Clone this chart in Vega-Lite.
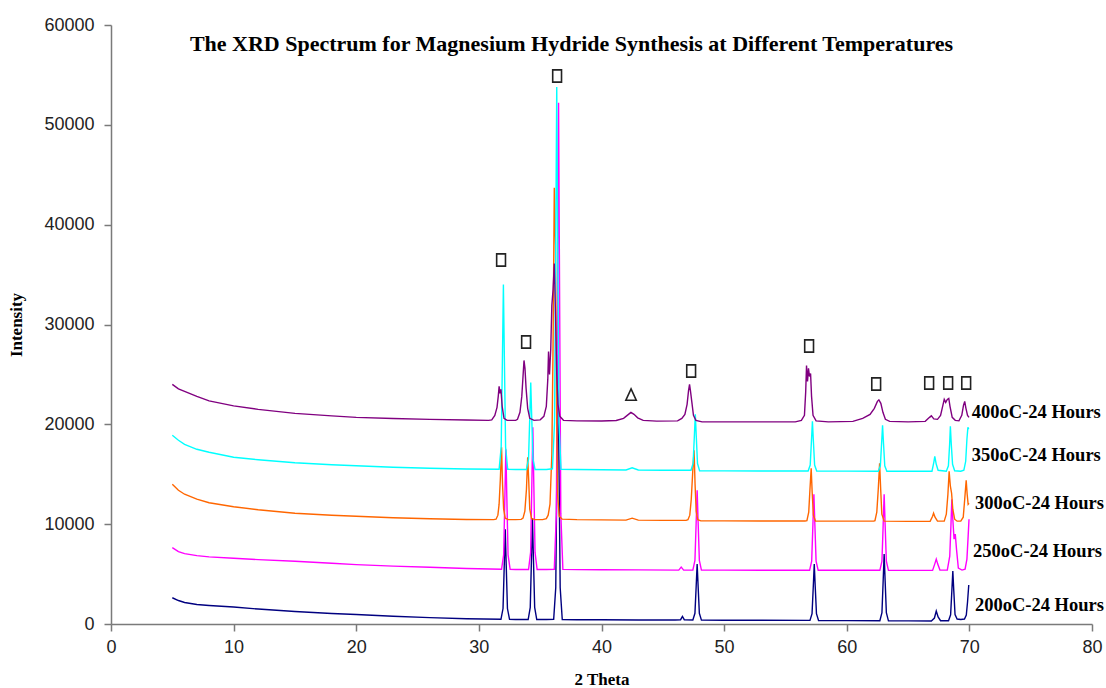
{
  "$schema": "https://vega.github.io/schema/vega-lite/v6.json",
  "width": 981,
  "height": 599,
  "autosize": {"type": "none"},
  "padding": {"left": 111, "top": 25, "right": 14, "bottom": 64},
  "background": "white",
  "title": {
    "text": "The XRD Spectrum for Magnesium Hydride Synthesis at Different Temperatures",
    "font": "Liberation Serif",
    "fontSize": 22,
    "fontWeight": "bold",
    "color": "black",
    "anchor": "middle",
    "frame": "group",
    "offset": 0,
    "dx": -30,
    "dy": 40
  },
  "config": {
    "view": {"stroke": null},
    "axis": {
      "grid": false,
      "domainColor": "#7a7a7a",
      "domainWidth": 1.5,
      "tickColor": "#7a7a7a",
      "tickWidth": 1.5,
      "tickSize": 7,
      "labelFont": "Liberation Sans",
      "labelFontSize": 18,
      "labelColor": "#222222",
      "labelFlush": false,
      "titleFont": "Liberation Serif",
      "titleFontSize": 17,
      "titleFontWeight": "bold",
      "titleColor": "black"
    }
  },
  "datasets": {
    "spectra": [
      {"s":"200oC-24 Hours","x":5,"y":2630},{"s":"200oC-24 Hours","x":5.5,"y":2350},{"s":"200oC-24 Hours","x":6,"y":2150},{"s":"200oC-24 Hours","x":7,"y":1950},{"s":"200oC-24 Hours","x":8,"y":1850},{"s":"200oC-24 Hours","x":10,"y":1700},{"s":"200oC-24 Hours","x":12,"y":1500},{"s":"200oC-24 Hours","x":15,"y":1250},{"s":"200oC-24 Hours","x":18,"y":1050},{"s":"200oC-24 Hours","x":20,"y":950},{"s":"200oC-24 Hours","x":23,"y":780},{"s":"200oC-24 Hours","x":26,"y":640},{"s":"200oC-24 Hours","x":29,"y":520},{"s":"200oC-24 Hours","x":31.8,"y":470},
      {"s":"200oC-24 Hours","x":31.97,"y":1550},{"s":"200oC-24 Hours","x":32.07,"y":5890},{"s":"200oC-24 Hours","x":32.15,"y":9500},{"s":"200oC-24 Hours","x":32.23,"y":5890},{"s":"200oC-24 Hours","x":32.33,"y":1550},{"s":"200oC-24 Hours","x":32.5,"y":460},{"s":"200oC-24 Hours","x":33,"y":450},
      {"s":"200oC-24 Hours","x":34.02,"y":450},{"s":"200oC-24 Hours","x":34.19,"y":1670},{"s":"200oC-24 Hours","x":34.29,"y":6540},{"s":"200oC-24 Hours","x":34.37,"y":10600},{"s":"200oC-24 Hours","x":34.45,"y":6540},{"s":"200oC-24 Hours","x":34.55,"y":1670},{"s":"200oC-24 Hours","x":34.72,"y":450},{"s":"200oC-24 Hours","x":35.5,"y":450},
      {"s":"200oC-24 Hours","x":36.1,"y":460},{"s":"200oC-24 Hours","x":36.27,"y":3650},{"s":"200oC-24 Hours","x":36.37,"y":16390},{"s":"200oC-24 Hours","x":36.45,"y":27000},{"s":"200oC-24 Hours","x":36.53,"y":16390},{"s":"200oC-24 Hours","x":36.63,"y":3650},{"s":"200oC-24 Hours","x":36.8,"y":450},
      {"s":"200oC-24 Hours","x":38,"y":430},{"s":"200oC-24 Hours","x":40,"y":420},{"s":"200oC-24 Hours","x":43,"y":400},{"s":"200oC-24 Hours","x":46,"y":400},{"s":"200oC-24 Hours","x":46.45,"y":430},{"s":"200oC-24 Hours","x":46.6,"y":750},{"s":"200oC-24 Hours","x":46.75,"y":430},
      {"s":"200oC-24 Hours","x":47.45,"y":400},{"s":"200oC-24 Hours","x":47.62,"y":1070},{"s":"200oC-24 Hours","x":47.72,"y":3760},{"s":"200oC-24 Hours","x":47.8,"y":6000},{"s":"200oC-24 Hours","x":47.88,"y":3760},{"s":"200oC-24 Hours","x":47.98,"y":1070},{"s":"200oC-24 Hours","x":48.15,"y":390},
      {"s":"200oC-24 Hours","x":50,"y":380},{"s":"200oC-24 Hours","x":53,"y":370},{"s":"200oC-24 Hours","x":57,"y":360},{"s":"200oC-24 Hours","x":57.17,"y":1040},{"s":"200oC-24 Hours","x":57.27,"y":3740},{"s":"200oC-24 Hours","x":57.35,"y":6000},{"s":"200oC-24 Hours","x":57.43,"y":3740},{"s":"200oC-24 Hours","x":57.53,"y":1040},{"s":"200oC-24 Hours","x":57.7,"y":350},
      {"s":"200oC-24 Hours","x":60,"y":340},{"s":"200oC-24 Hours","x":62.7,"y":330},{"s":"200oC-24 Hours","x":62.87,"y":1130},{"s":"200oC-24 Hours","x":62.97,"y":4330},{"s":"200oC-24 Hours","x":63.05,"y":7000},{"s":"200oC-24 Hours","x":63.13,"y":4330},{"s":"200oC-24 Hours","x":63.23,"y":1130},{"s":"200oC-24 Hours","x":63.4,"y":320},
      {"s":"200oC-24 Hours","x":65,"y":310},{"s":"200oC-24 Hours","x":66.9,"y":300},{"s":"200oC-24 Hours","x":67.15,"y":600},{"s":"200oC-24 Hours","x":67.3,"y":1300},{"s":"200oC-24 Hours","x":67.45,"y":700},{"s":"200oC-24 Hours","x":67.65,"y":330},
      {"s":"200oC-24 Hours","x":68.3,"y":330},{"s":"200oC-24 Hours","x":68.47,"y":920},{"s":"200oC-24 Hours","x":68.57,"y":3310},{"s":"200oC-24 Hours","x":68.65,"y":5300},{"s":"200oC-24 Hours","x":68.73,"y":3310},{"s":"200oC-24 Hours","x":68.83,"y":950},{"s":"200oC-24 Hours","x":69,"y":500},{"s":"200oC-24 Hours","x":69.3,"y":450},{"s":"200oC-24 Hours","x":69.6,"y":500},{"s":"200oC-24 Hours","x":69.75,"y":900},{"s":"200oC-24 Hours","x":69.85,"y":2200},{"s":"200oC-24 Hours","x":69.95,"y":3900},

      {"s":"250oC-24 Hours","x":5,"y":7650},{"s":"250oC-24 Hours","x":5.5,"y":7250},{"s":"250oC-24 Hours","x":6,"y":7050},{"s":"250oC-24 Hours","x":7,"y":6850},{"s":"250oC-24 Hours","x":8,"y":6720},{"s":"250oC-24 Hours","x":10,"y":6580},{"s":"250oC-24 Hours","x":12,"y":6450},{"s":"250oC-24 Hours","x":15,"y":6280},{"s":"250oC-24 Hours","x":18,"y":6080},{"s":"250oC-24 Hours","x":20,"y":5950},{"s":"250oC-24 Hours","x":23,"y":5800},{"s":"250oC-24 Hours","x":26,"y":5680},{"s":"250oC-24 Hours","x":29,"y":5560},{"s":"250oC-24 Hours","x":31.85,"y":5480},
      {"s":"250oC-24 Hours","x":32.02,"y":6920},{"s":"250oC-24 Hours","x":32.12,"y":12690},{"s":"250oC-24 Hours","x":32.2,"y":17500},{"s":"250oC-24 Hours","x":32.28,"y":12690},{"s":"250oC-24 Hours","x":32.38,"y":6920},{"s":"250oC-24 Hours","x":32.55,"y":5470},{"s":"250oC-24 Hours","x":33,"y":5460},
      {"s":"250oC-24 Hours","x":34.05,"y":5460},{"s":"250oC-24 Hours","x":34.22,"y":7170},{"s":"250oC-24 Hours","x":34.32,"y":14000},{"s":"250oC-24 Hours","x":34.4,"y":19700},{"s":"250oC-24 Hours","x":34.48,"y":14000},{"s":"250oC-24 Hours","x":34.58,"y":7170},{"s":"250oC-24 Hours","x":34.75,"y":5460},{"s":"250oC-24 Hours","x":35.5,"y":5460},
      {"s":"250oC-24 Hours","x":36.15,"y":5470},{"s":"250oC-24 Hours","x":36.32,"y":11080},{"s":"250oC-24 Hours","x":36.42,"y":33510},{"s":"250oC-24 Hours","x":36.5,"y":52200},{"s":"250oC-24 Hours","x":36.58,"y":33510},{"s":"250oC-24 Hours","x":36.68,"y":11080},{"s":"250oC-24 Hours","x":36.85,"y":5470},
      {"s":"250oC-24 Hours","x":38,"y":5450},{"s":"250oC-24 Hours","x":40,"y":5440},{"s":"250oC-24 Hours","x":43,"y":5420},{"s":"250oC-24 Hours","x":46.3,"y":5400},{"s":"250oC-24 Hours","x":46.5,"y":5700},{"s":"250oC-24 Hours","x":46.7,"y":5400},
      {"s":"250oC-24 Hours","x":47.45,"y":5400},{"s":"250oC-24 Hours","x":47.62,"y":6360},{"s":"250oC-24 Hours","x":47.72,"y":10200},{"s":"250oC-24 Hours","x":47.8,"y":13400},{"s":"250oC-24 Hours","x":47.88,"y":10200},{"s":"250oC-24 Hours","x":47.98,"y":6360},{"s":"250oC-24 Hours","x":48.15,"y":5400},
      {"s":"250oC-24 Hours","x":50,"y":5400},{"s":"250oC-24 Hours","x":53,"y":5390},{"s":"250oC-24 Hours","x":56.97,"y":5380},{"s":"250oC-24 Hours","x":57.14,"y":6290},{"s":"250oC-24 Hours","x":57.24,"y":9950},{"s":"250oC-24 Hours","x":57.32,"y":13000},{"s":"250oC-24 Hours","x":57.4,"y":9950},{"s":"250oC-24 Hours","x":57.5,"y":6290},{"s":"250oC-24 Hours","x":57.67,"y":5380},
      {"s":"250oC-24 Hours","x":60,"y":5380},{"s":"250oC-24 Hours","x":62.7,"y":5380},{"s":"250oC-24 Hours","x":62.87,"y":6290},{"s":"250oC-24 Hours","x":62.97,"y":9950},{"s":"250oC-24 Hours","x":63.05,"y":13000},{"s":"250oC-24 Hours","x":63.13,"y":9950},{"s":"250oC-24 Hours","x":63.23,"y":6290},{"s":"250oC-24 Hours","x":63.4,"y":5380},
      {"s":"250oC-24 Hours","x":65,"y":5370},{"s":"250oC-24 Hours","x":67,"y":5370},{"s":"250oC-24 Hours","x":67.2,"y":6100},{"s":"250oC-24 Hours","x":67.3,"y":6500},{"s":"250oC-24 Hours","x":67.42,"y":6000},{"s":"250oC-24 Hours","x":67.6,"y":5400},
      {"s":"250oC-24 Hours","x":68.2,"y":5400},{"s":"250oC-24 Hours","x":68.4,"y":6800},{"s":"250oC-24 Hours","x":68.5,"y":10000},{"s":"250oC-24 Hours","x":68.57,"y":12500},{"s":"250oC-24 Hours","x":68.65,"y":10500},{"s":"250oC-24 Hours","x":68.75,"y":8500},{"s":"250oC-24 Hours","x":68.85,"y":9000},{"s":"250oC-24 Hours","x":68.95,"y":7500},{"s":"250oC-24 Hours","x":69.1,"y":5600},{"s":"250oC-24 Hours","x":69.4,"y":5400},{"s":"250oC-24 Hours","x":69.65,"y":5500},{"s":"250oC-24 Hours","x":69.8,"y":6500},{"s":"250oC-24 Hours","x":69.9,"y":8800},{"s":"250oC-24 Hours","x":69.97,"y":10500},

      {"s":"300oC-24 Hours","x":5,"y":14000},{"s":"300oC-24 Hours","x":5.5,"y":13400},{"s":"300oC-24 Hours","x":6,"y":13000},{"s":"300oC-24 Hours","x":7,"y":12500},{"s":"300oC-24 Hours","x":8,"y":12150},{"s":"300oC-24 Hours","x":10,"y":11750},{"s":"300oC-24 Hours","x":12,"y":11450},{"s":"300oC-24 Hours","x":15,"y":11100},{"s":"300oC-24 Hours","x":18,"y":10900},{"s":"300oC-24 Hours","x":20,"y":10800},{"s":"300oC-24 Hours","x":23,"y":10650},{"s":"300oC-24 Hours","x":26,"y":10550},{"s":"300oC-24 Hours","x":29,"y":10470},{"s":"300oC-24 Hours","x":31.2,"y":10450},
      {"s":"300oC-24 Hours","x":31.4,"y":10500},{"s":"300oC-24 Hours","x":31.55,"y":10900},{"s":"300oC-24 Hours","x":31.65,"y":12000},{"s":"300oC-24 Hours","x":31.75,"y":14500},{"s":"300oC-24 Hours","x":31.85,"y":17700},{"s":"300oC-24 Hours","x":31.93,"y":14000},{"s":"300oC-24 Hours","x":32.02,"y":11500},{"s":"300oC-24 Hours","x":32.15,"y":10600},{"s":"300oC-24 Hours","x":32.4,"y":10450},{"s":"300oC-24 Hours","x":33,"y":10450},{"s":"300oC-24 Hours","x":33.45,"y":10480},
      {"s":"300oC-24 Hours","x":33.6,"y":10600},{"s":"300oC-24 Hours","x":33.75,"y":11300},{"s":"300oC-24 Hours","x":33.88,"y":13500},{"s":"300oC-24 Hours","x":33.98,"y":16700},{"s":"300oC-24 Hours","x":34.06,"y":14500},{"s":"300oC-24 Hours","x":34.15,"y":11500},{"s":"300oC-24 Hours","x":34.3,"y":10550},{"s":"300oC-24 Hours","x":34.6,"y":10450},{"s":"300oC-24 Hours","x":35.2,"y":10450},{"s":"300oC-24 Hours","x":35.5,"y":10550},
      {"s":"300oC-24 Hours","x":35.65,"y":10900},{"s":"300oC-24 Hours","x":35.8,"y":12000},{"s":"300oC-24 Hours","x":35.95,"y":17000},{"s":"300oC-24 Hours","x":36.05,"y":28000},{"s":"300oC-24 Hours","x":36.15,"y":43700},{"s":"300oC-24 Hours","x":36.25,"y":38000},{"s":"300oC-24 Hours","x":36.33,"y":22000},{"s":"300oC-24 Hours","x":36.42,"y":13000},{"s":"300oC-24 Hours","x":36.55,"y":10800},{"s":"300oC-24 Hours","x":36.8,"y":10500},
      {"s":"300oC-24 Hours","x":38,"y":10450},{"s":"300oC-24 Hours","x":40,"y":10430},{"s":"300oC-24 Hours","x":42,"y":10400},{"s":"300oC-24 Hours","x":42.5,"y":10600},{"s":"300oC-24 Hours","x":43,"y":10400},{"s":"300oC-24 Hours","x":45,"y":10380},{"s":"300oC-24 Hours","x":46.9,"y":10380},
      {"s":"300oC-24 Hours","x":47.05,"y":10450},{"s":"300oC-24 Hours","x":47.2,"y":10900},{"s":"300oC-24 Hours","x":47.32,"y":12500},{"s":"300oC-24 Hours","x":47.45,"y":15500},{"s":"300oC-24 Hours","x":47.55,"y":17400},{"s":"300oC-24 Hours","x":47.63,"y":14000},{"s":"300oC-24 Hours","x":47.72,"y":11300},{"s":"300oC-24 Hours","x":47.85,"y":10450},{"s":"300oC-24 Hours","x":48.1,"y":10330},
      {"s":"300oC-24 Hours","x":50,"y":10330},{"s":"300oC-24 Hours","x":53,"y":10320},{"s":"300oC-24 Hours","x":56.6,"y":10320},{"s":"300oC-24 Hours","x":56.75,"y":10350},{"s":"300oC-24 Hours","x":56.9,"y":11200},{"s":"300oC-24 Hours","x":57,"y":13500},{"s":"300oC-24 Hours","x":57.1,"y":15600},{"s":"300oC-24 Hours","x":57.18,"y":13200},{"s":"300oC-24 Hours","x":57.28,"y":10900},{"s":"300oC-24 Hours","x":57.45,"y":10320},
      {"s":"300oC-24 Hours","x":60,"y":10300},{"s":"300oC-24 Hours","x":62.2,"y":10300},{"s":"300oC-24 Hours","x":62.3,"y":10350},{"s":"300oC-24 Hours","x":62.45,"y":11200},{"s":"300oC-24 Hours","x":62.57,"y":13500},{"s":"300oC-24 Hours","x":62.68,"y":16100},{"s":"300oC-24 Hours","x":62.76,"y":13700},{"s":"300oC-24 Hours","x":62.86,"y":11000},{"s":"300oC-24 Hours","x":63.05,"y":10300},
      {"s":"300oC-24 Hours","x":65,"y":10280},{"s":"300oC-24 Hours","x":66.8,"y":10280},{"s":"300oC-24 Hours","x":67,"y":10800},{"s":"300oC-24 Hours","x":67.08,"y":11100},{"s":"300oC-24 Hours","x":67.2,"y":10700},{"s":"300oC-24 Hours","x":67.4,"y":10300},
      {"s":"300oC-24 Hours","x":67.95,"y":10300},{"s":"300oC-24 Hours","x":68.12,"y":11000},{"s":"300oC-24 Hours","x":68.25,"y":13000},{"s":"300oC-24 Hours","x":68.35,"y":15300},{"s":"300oC-24 Hours","x":68.45,"y":13800},{"s":"300oC-24 Hours","x":68.55,"y":13100},{"s":"300oC-24 Hours","x":68.65,"y":11500},{"s":"300oC-24 Hours","x":68.8,"y":10500},{"s":"300oC-24 Hours","x":69,"y":10300},{"s":"300oC-24 Hours","x":69.3,"y":10300},{"s":"300oC-24 Hours","x":69.5,"y":10700},{"s":"300oC-24 Hours","x":69.62,"y":12500},{"s":"300oC-24 Hours","x":69.74,"y":14400},{"s":"300oC-24 Hours","x":69.82,"y":13000},{"s":"300oC-24 Hours","x":69.9,"y":12000},{"s":"300oC-24 Hours","x":69.97,"y":12100},

      {"s":"350oC-24 Hours","x":5,"y":18900},{"s":"350oC-24 Hours","x":5.5,"y":18400},{"s":"350oC-24 Hours","x":6,"y":18000},{"s":"350oC-24 Hours","x":7,"y":17500},{"s":"350oC-24 Hours","x":8,"y":17200},{"s":"350oC-24 Hours","x":10,"y":16700},{"s":"350oC-24 Hours","x":12,"y":16450},{"s":"350oC-24 Hours","x":15,"y":16150},{"s":"350oC-24 Hours","x":18,"y":15950},{"s":"350oC-24 Hours","x":20,"y":15850},{"s":"350oC-24 Hours","x":23,"y":15700},{"s":"350oC-24 Hours","x":26,"y":15600},{"s":"350oC-24 Hours","x":29,"y":15530},{"s":"350oC-24 Hours","x":31.65,"y":15500},
      {"s":"350oC-24 Hours","x":31.82,"y":17720},{"s":"350oC-24 Hours","x":31.92,"y":26600},{"s":"350oC-24 Hours","x":32,"y":34000},{"s":"350oC-24 Hours","x":32.08,"y":26600},{"s":"350oC-24 Hours","x":32.18,"y":17720},{"s":"350oC-24 Hours","x":32.35,"y":15500},{"s":"350oC-24 Hours","x":33,"y":15480},
      {"s":"350oC-24 Hours","x":33.88,"y":15480},{"s":"350oC-24 Hours","x":34.05,"y":16530},{"s":"350oC-24 Hours","x":34.15,"y":20710},{"s":"350oC-24 Hours","x":34.23,"y":24200},{"s":"350oC-24 Hours","x":34.31,"y":20710},{"s":"350oC-24 Hours","x":34.41,"y":16530},{"s":"350oC-24 Hours","x":34.58,"y":15480},{"s":"350oC-24 Hours","x":35.5,"y":15480},
      {"s":"350oC-24 Hours","x":36,"y":15550},{"s":"350oC-24 Hours","x":36.17,"y":20150},{"s":"350oC-24 Hours","x":36.27,"y":38500},{"s":"350oC-24 Hours","x":36.35,"y":53800},{"s":"350oC-24 Hours","x":36.43,"y":38500},{"s":"350oC-24 Hours","x":36.53,"y":20150},{"s":"350oC-24 Hours","x":36.7,"y":15500},
      {"s":"350oC-24 Hours","x":38,"y":15480},{"s":"350oC-24 Hours","x":40,"y":15450},{"s":"350oC-24 Hours","x":42,"y":15430},{"s":"350oC-24 Hours","x":42.5,"y":15650},{"s":"350oC-24 Hours","x":43,"y":15430},{"s":"350oC-24 Hours","x":45,"y":15400},{"s":"350oC-24 Hours","x":47.3,"y":15400},
      {"s":"350oC-24 Hours","x":47.47,"y":16070},{"s":"350oC-24 Hours","x":47.57,"y":18760},{"s":"350oC-24 Hours","x":47.65,"y":21000},{"s":"350oC-24 Hours","x":47.73,"y":18760},{"s":"350oC-24 Hours","x":47.83,"y":16070},{"s":"350oC-24 Hours","x":48,"y":15350},
      {"s":"350oC-24 Hours","x":50,"y":15340},{"s":"350oC-24 Hours","x":53,"y":15330},{"s":"350oC-24 Hours","x":56.85,"y":15320},{"s":"350oC-24 Hours","x":57.02,"y":15920},{"s":"350oC-24 Hours","x":57.12,"y":18310},{"s":"350oC-24 Hours","x":57.2,"y":20300},{"s":"350oC-24 Hours","x":57.28,"y":18310},{"s":"350oC-24 Hours","x":57.38,"y":15920},{"s":"350oC-24 Hours","x":57.55,"y":15320},
      {"s":"350oC-24 Hours","x":60,"y":15310},{"s":"350oC-24 Hours","x":62.57,"y":15300},{"s":"350oC-24 Hours","x":62.74,"y":15850},{"s":"350oC-24 Hours","x":62.84,"y":18060},{"s":"350oC-24 Hours","x":62.92,"y":19900},{"s":"350oC-24 Hours","x":63,"y":18060},{"s":"350oC-24 Hours","x":63.1,"y":15850},{"s":"350oC-24 Hours","x":63.27,"y":15300},
      {"s":"350oC-24 Hours","x":65,"y":15300},{"s":"350oC-24 Hours","x":66.95,"y":15300},{"s":"350oC-24 Hours","x":67.1,"y":16200},{"s":"350oC-24 Hours","x":67.18,"y":16800},{"s":"350oC-24 Hours","x":67.3,"y":16000},{"s":"350oC-24 Hours","x":67.45,"y":15400},{"s":"350oC-24 Hours","x":68.12,"y":15300},
      {"s":"350oC-24 Hours","x":68.29,"y":15840},{"s":"350oC-24 Hours","x":68.39,"y":18000},{"s":"350oC-24 Hours","x":68.45,"y":19800},{"s":"350oC-24 Hours","x":68.53,"y":17900},{"s":"350oC-24 Hours","x":68.63,"y":16000},{"s":"350oC-24 Hours","x":68.8,"y":15350},{"s":"350oC-24 Hours","x":69.3,"y":15300},{"s":"350oC-24 Hours","x":69.55,"y":15400},{"s":"350oC-24 Hours","x":69.7,"y":16300},{"s":"350oC-24 Hours","x":69.8,"y":18500},{"s":"350oC-24 Hours","x":69.88,"y":19700},{"s":"350oC-24 Hours","x":69.95,"y":19500},

      {"s":"400oC-24 Hours","x":5,"y":24000},{"s":"400oC-24 Hours","x":5.5,"y":23550},{"s":"400oC-24 Hours","x":6,"y":23300},{"s":"400oC-24 Hours","x":7,"y":22800},{"s":"400oC-24 Hours","x":8,"y":22350},{"s":"400oC-24 Hours","x":10,"y":21850},{"s":"400oC-24 Hours","x":12,"y":21500},{"s":"400oC-24 Hours","x":15,"y":21100},{"s":"400oC-24 Hours","x":18,"y":20850},{"s":"400oC-24 Hours","x":20,"y":20700},{"s":"400oC-24 Hours","x":23,"y":20580},{"s":"400oC-24 Hours","x":26,"y":20500},{"s":"400oC-24 Hours","x":29,"y":20430},{"s":"400oC-24 Hours","x":30.8,"y":20400},
      {"s":"400oC-24 Hours","x":31.05,"y":20450},{"s":"400oC-24 Hours","x":31.3,"y":20900},{"s":"400oC-24 Hours","x":31.48,"y":21700},{"s":"400oC-24 Hours","x":31.58,"y":22800},{"s":"400oC-24 Hours","x":31.65,"y":23800},{"s":"400oC-24 Hours","x":31.72,"y":23100},{"s":"400oC-24 Hours","x":31.8,"y":23500},{"s":"400oC-24 Hours","x":31.9,"y":21800},{"s":"400oC-24 Hours","x":32.05,"y":20600},{"s":"400oC-24 Hours","x":32.3,"y":20400},{"s":"400oC-24 Hours","x":33,"y":20400},
      {"s":"400oC-24 Hours","x":33.15,"y":20500},{"s":"400oC-24 Hours","x":33.35,"y":21200},{"s":"400oC-24 Hours","x":33.5,"y":22800},{"s":"400oC-24 Hours","x":33.6,"y":24800},{"s":"400oC-24 Hours","x":33.68,"y":26400},{"s":"400oC-24 Hours","x":33.76,"y":25600},{"s":"400oC-24 Hours","x":33.85,"y":23600},{"s":"400oC-24 Hours","x":33.98,"y":21600},{"s":"400oC-24 Hours","x":34.15,"y":20600},{"s":"400oC-24 Hours","x":34.5,"y":20400},
      {"s":"400oC-24 Hours","x":35,"y":20450},{"s":"400oC-24 Hours","x":35.3,"y":20800},{"s":"400oC-24 Hours","x":35.5,"y":21800},{"s":"400oC-24 Hours","x":35.62,"y":24500},{"s":"400oC-24 Hours","x":35.68,"y":27300},{"s":"400oC-24 Hours","x":35.76,"y":25000},{"s":"400oC-24 Hours","x":35.86,"y":27500},{"s":"400oC-24 Hours","x":35.95,"y":31900},{"s":"400oC-24 Hours","x":36.05,"y":33500},{"s":"400oC-24 Hours","x":36.15,"y":36100},{"s":"400oC-24 Hours","x":36.25,"y":31000},{"s":"400oC-24 Hours","x":36.35,"y":25000},{"s":"400oC-24 Hours","x":36.45,"y":22000},{"s":"400oC-24 Hours","x":36.6,"y":20800},{"s":"400oC-24 Hours","x":36.9,"y":20400},
      {"s":"400oC-24 Hours","x":38,"y":20350},{"s":"400oC-24 Hours","x":40,"y":20330},{"s":"400oC-24 Hours","x":41.2,"y":20380},{"s":"400oC-24 Hours","x":41.8,"y":20600},{"s":"400oC-24 Hours","x":42.15,"y":20950},{"s":"400oC-24 Hours","x":42.4,"y":21200},{"s":"400oC-24 Hours","x":42.65,"y":21000},{"s":"400oC-24 Hours","x":42.95,"y":20650},{"s":"400oC-24 Hours","x":43.4,"y":20400},{"s":"400oC-24 Hours","x":44.5,"y":20320},{"s":"400oC-24 Hours","x":46.2,"y":20350},
      {"s":"400oC-24 Hours","x":46.55,"y":20600},{"s":"400oC-24 Hours","x":46.8,"y":21000},{"s":"400oC-24 Hours","x":46.98,"y":22000},{"s":"400oC-24 Hours","x":47.1,"y":23400},{"s":"400oC-24 Hours","x":47.18,"y":24000},{"s":"400oC-24 Hours","x":47.26,"y":23300},{"s":"400oC-24 Hours","x":47.36,"y":22300},{"s":"400oC-24 Hours","x":47.5,"y":20900},{"s":"400oC-24 Hours","x":47.7,"y":20400},{"s":"400oC-24 Hours","x":48.2,"y":20250},
      {"s":"400oC-24 Hours","x":50,"y":20250},{"s":"400oC-24 Hours","x":53,"y":20250},{"s":"400oC-24 Hours","x":55.8,"y":20250},{"s":"400oC-24 Hours","x":56.3,"y":20400},{"s":"400oC-24 Hours","x":56.55,"y":20900},{"s":"400oC-24 Hours","x":56.65,"y":23200},{"s":"400oC-24 Hours","x":56.72,"y":25900},{"s":"400oC-24 Hours","x":56.8,"y":24300},{"s":"400oC-24 Hours","x":56.88,"y":25600},{"s":"400oC-24 Hours","x":56.96,"y":24800},{"s":"400oC-24 Hours","x":57.05,"y":25100},{"s":"400oC-24 Hours","x":57.13,"y":22800},{"s":"400oC-24 Hours","x":57.25,"y":20900},{"s":"400oC-24 Hours","x":57.5,"y":20350},{"s":"400oC-24 Hours","x":58.5,"y":20250},
      {"s":"400oC-24 Hours","x":60.5,"y":20300},{"s":"400oC-24 Hours","x":61.3,"y":20600},{"s":"400oC-24 Hours","x":61.9,"y":21000},{"s":"400oC-24 Hours","x":62.25,"y":21600},{"s":"400oC-24 Hours","x":62.5,"y":22300},{"s":"400oC-24 Hours","x":62.62,"y":22450},{"s":"400oC-24 Hours","x":62.78,"y":22100},{"s":"400oC-24 Hours","x":62.95,"y":21200},{"s":"400oC-24 Hours","x":63.15,"y":20500},{"s":"400oC-24 Hours","x":63.5,"y":20300},
      {"s":"400oC-24 Hours","x":65,"y":20250},{"s":"400oC-24 Hours","x":66.4,"y":20300},{"s":"400oC-24 Hours","x":66.75,"y":20700},{"s":"400oC-24 Hours","x":66.9,"y":20850},{"s":"400oC-24 Hours","x":67.1,"y":20550},{"s":"400oC-24 Hours","x":67.4,"y":20500},{"s":"400oC-24 Hours","x":67.65,"y":20900},{"s":"400oC-24 Hours","x":67.82,"y":21800},{"s":"400oC-24 Hours","x":67.95,"y":22500},{"s":"400oC-24 Hours","x":68.07,"y":22200},{"s":"400oC-24 Hours","x":68.2,"y":22500},{"s":"400oC-24 Hours","x":68.32,"y":22600},{"s":"400oC-24 Hours","x":68.42,"y":21800},{"s":"400oC-24 Hours","x":68.6,"y":20700},{"s":"400oC-24 Hours","x":68.85,"y":20400},{"s":"400oC-24 Hours","x":69.15,"y":20350},{"s":"400oC-24 Hours","x":69.38,"y":20900},{"s":"400oC-24 Hours","x":69.52,"y":21900},{"s":"400oC-24 Hours","x":69.62,"y":22300},{"s":"400oC-24 Hours","x":69.72,"y":21600},{"s":"400oC-24 Hours","x":69.85,"y":20900},{"s":"400oC-24 Hours","x":69.97,"y":20700}
    ],
    "labels": [
      {"s":"400oC-24 Hours","x":70.2,"y":21200},
      {"s":"350oC-24 Hours","x":70.2,"y":16900},
      {"s":"300oC-24 Hours","x":70.45,"y":12100},
      {"s":"250oC-24 Hours","x":70.3,"y":7300},
      {"s":"200oC-24 Hours","x":70.45,"y":1900}
    ],
    "markers": [
      {"m":"box","x":36.38,"y":54890},
      {"m":"box","x":31.81,"y":36460},
      {"m":"box","x":33.85,"y":28250},
      {"m":"tri","x":42.41,"y":22940},
      {"m":"box","x":47.31,"y":25340},
      {"m":"box","x":56.93,"y":27850},
      {"m":"box","x":62.4,"y":24040},
      {"m":"box","x":66.72,"y":24140},
      {"m":"box","x":68.27,"y":24140},
      {"m":"box","x":69.74,"y":24140}
    ]
  },
  "layer": [
    {
      "data": {"name": "spectra"},
      "mark": {"type": "line", "strokeWidth": 1.4, "clip": true},
      "encoding": {
        "x": {
          "field": "x",
          "type": "quantitative",
          "scale": {"domain": [0, 80], "nice": false, "zero": false},
          "axis": {
            "values": [0, 10, 20, 30, 40, 50, 60, 70, 80],
            "title": "2 Theta",
            "labelPadding": 7,
            "titlePadding": 15
          }
        },
        "y": {
          "field": "y",
          "type": "quantitative",
          "scale": {"domain": [0, 60000], "nice": false},
          "axis": {
            "values": [0, 10000, 20000, 30000, 40000, 50000, 60000],
            "format": "d",
            "title": "Intensity",
            "labelPadding": 10,
            "titlePadding": 18
          }
        },
        "color": {
          "field": "s",
          "type": "nominal",
          "scale": {
            "domain": ["200oC-24 Hours", "250oC-24 Hours", "300oC-24 Hours", "350oC-24 Hours", "400oC-24 Hours"],
            "range": ["#000080", "#ff00ff", "#ff6600", "#00ffff", "#800080"]
          },
          "legend": null
        }
      }
    },
    {
      "data": {"name": "labels"},
      "mark": {
        "type": "text",
        "align": "left",
        "baseline": "middle",
        "font": "Liberation Serif",
        "fontSize": 18.5,
        "fontWeight": "bold",
        "color": "black"
      },
      "encoding": {
        "x": {"field": "x", "type": "quantitative"},
        "y": {"field": "y", "type": "quantitative"},
        "text": {"field": "s", "type": "nominal"}
      }
    },
    {
      "data": {"name": "markers"},
      "mark": {"type": "point", "filled": false, "stroke": "#222222", "strokeWidth": 1.6, "size": 150, "opacity": 1},
      "encoding": {
        "x": {"field": "x", "type": "quantitative"},
        "y": {"field": "y", "type": "quantitative"},
        "shape": {
          "field": "m",
          "type": "nominal",
          "scale": {
            "domain": ["box", "tri"],
            "range": ["M-0.72,-1L0.72,-1L0.72,1L-0.72,1Z", "M0,-1L0.85,0.85L-0.85,0.85Z"]
          },
          "legend": null
        }
      }
    }
  ]
}
